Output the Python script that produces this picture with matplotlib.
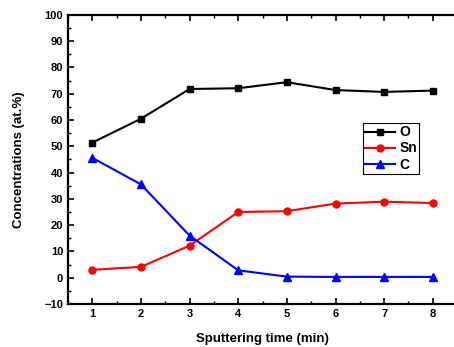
import matplotlib
matplotlib.use('Agg')
import matplotlib.pyplot as plt
from matplotlib.ticker import MultipleLocator

# sputtering time and the concentrations
time = [1, 2, 3, 4, 5, 6, 7, 8]
o_conc = [51.4, 60.5, 71.8, 72.1, 74.4, 71.4, 70.7, 71.2]
sn_conc = [3.0, 4.1, 12.2, 25.0, 25.3, 28.2, 28.9, 28.4]
c_conc = [45.6, 35.5, 16.0, 2.8, 0.4, 0.3, 0.3, 0.3]

plt.rcParams['font.family'] = ['Liberation Sans', 'DejaVu Sans']
plt.rcParams['font.weight'] = 'bold'

fig = plt.figure(figsize=(4.54, 3.47), dpi=100)
# right edge of the frame is cut off in the original, so axes go past the figure
ax = fig.add_axes([0.1498, 0.124, 0.857, 0.833])

ax.plot(time, o_conc, '-s', color='black', lw=1.5, ms=4.5, label='O')
ax.plot(time, sn_conc, '-o', color='red', lw=1.5, ms=5, label='Sn')
ax.plot(time, c_conc, '-^', color='blue', lw=1.5, ms=5.5, label='C')

ax.set_xlim(0.5, 8.5)
ax.set_ylim(-10, 100)
ax.xaxis.set_major_locator(MultipleLocator(1))
ax.xaxis.set_minor_locator(MultipleLocator(0.5))
ax.yaxis.set_major_locator(MultipleLocator(10))
ax.yaxis.set_minor_locator(MultipleLocator(5))
ax.tick_params(which='both', direction='in', top=True, right=False, labelsize=8)
ax.tick_params(which='major', length=4, width=1.2)
ax.tick_params(which='minor', length=2, width=1)
for s in ax.spines.values():
    s.set_linewidth(1.6)

ax.set_xlabel('Sputtering time (min)', fontsize=9.5, fontweight='bold', labelpad=10)
ax.set_ylabel('Concentrations (at.%)', fontsize=9.5, fontweight='bold', labelpad=14)

leg = ax.legend(loc='upper left', bbox_to_anchor=(0.757, 0.625), fontsize=10,
                fancybox=False, framealpha=1, edgecolor='black',
                handlelength=2.2, handletextpad=0.3, borderpad=0.15,
                labelspacing=0.15, borderaxespad=0)
leg.get_frame().set_linewidth(0.8)

fig.savefig('out.png', dpi=100)
